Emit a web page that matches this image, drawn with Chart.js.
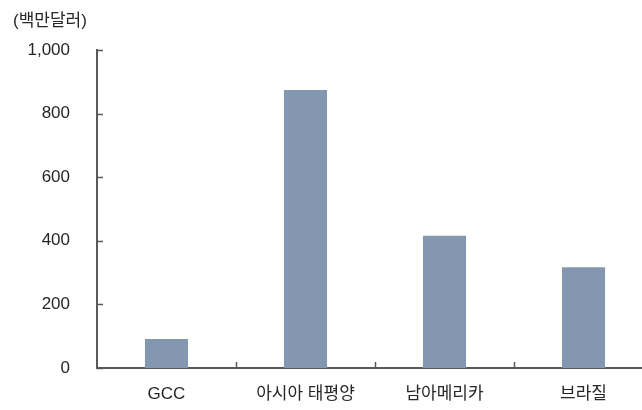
<!DOCTYPE html>
<html lang="ko">
<head>
<meta charset="utf-8">
<title>지역별 투자 규모</title>
<script src="https://cdn.jsdelivr.net/npm/chart.js@4/dist/chart.umd.min.js"></script>
<style>
  html, body { margin: 0; padding: 0; background: #fff; overflow: hidden; }
  #chart { display: block; }
</style>
</head>
<body>
<canvas id="chart" width="660" height="410"></canvas>
<script>
// 지역별 값 (백만달러)
const categories = ["GCC", "아시아 태평양", "남아메리카", "브라질"];
const values = [91, 874, 416, 317];
const yMin = 0;
const yMax = 1000;
const yStep = 200;
const unitLabel = "(백만달러)";

const FONT = "'Liberation Sans', 'Noto Sans CJK KR', sans-serif";
const AXIS_COLOR = "#595959";
const TEXT_COLOR = "#262626";

// 축 안쪽으로 향하는 눈금과 단위 표시
const innerTicks = {
  id: "innerTicks",
  afterDraw: function (chart) {
    const ctx = chart.ctx;
    const area = chart.chartArea;
    const x = chart.scales.x;
    const y = chart.scales.y;

    ctx.save();
    ctx.strokeStyle = AXIS_COLOR;
    ctx.lineWidth = 1.5;
    ctx.beginPath();
    for (let v = yMin; v <= yMax; v += yStep) {
      const py = Math.round(y.getPixelForValue(v)) + 0.5;
      ctx.moveTo(area.left, py);
      ctx.lineTo(area.left + 6, py);
    }
    for (let i = 1; i < categories.length; i++) {
      const px = Math.round((x.getPixelForValue(i - 1) + x.getPixelForValue(i)) / 2) + 0.5;
      ctx.moveTo(px, area.bottom);
      ctx.lineTo(px, area.bottom - 6);
    }
    ctx.stroke();

    ctx.fillStyle = TEXT_COLOR;
    ctx.font = "17px " + FONT;
    ctx.textAlign = "left";
    ctx.textBaseline = "middle";
    ctx.fillText(unitLabel, 13, 21);
    ctx.restore();
  }
};

new Chart(document.getElementById("chart"), {
  type: "bar",
  data: {
    labels: categories,
    datasets: [
      {
        data: values,
        backgroundColor: "#8497b0",
        borderWidth: 0,
        categoryPercentage: 1,
        barPercentage: 0.31
      }
    ]
  },
  options: {
    responsive: false,
    animation: false,
    layout: { padding: { left: 0, right: 7, top: 50, bottom: 0 } },
    plugins: {
      legend: { display: false },
      tooltip: { enabled: false }
    },
    scales: {
      x: {
        offset: true,
        grid: { display: false, drawTicks: false },
        border: { display: true, color: AXIS_COLOR, width: 2 },
        ticks: {
          color: TEXT_COLOR,
          font: { family: FONT, size: 17 },
          padding: 16,
          maxRotation: 0
        },
        afterFit: function (scale) { scale.height = 42; }
      },
      y: {
        min: yMin,
        max: yMax,
        grid: { display: false, drawTicks: false },
        border: { display: true, color: AXIS_COLOR, width: 2 },
        ticks: {
          stepSize: yStep,
          color: TEXT_COLOR,
          font: { family: FONT, size: 17 },
          padding: 27,
          callback: function (v) { return v.toLocaleString("en-US"); }
        },
        afterFit: function (scale) { scale.width = 97; }
      }
    }
  },
  plugins: [innerTicks]
});
</script>
</body>
</html>
